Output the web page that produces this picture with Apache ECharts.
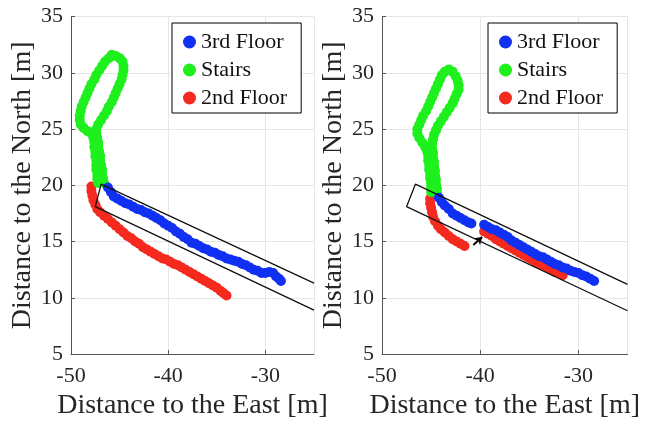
<!DOCTYPE html>
<html>
<head>
<meta charset="utf-8">
<script src="https://cdn.jsdelivr.net/npm/echarts@6/dist/echarts.min.js"></script>
<style>
  html, body { margin: 0; padding: 0; background: #fff; }
  #chart { width: 646px; height: 425px; }
</style>
</head>
<body>
<div id="chart"></div>
<script>
// 左图：原始轨迹
var floor3Left = [
  [-46.2, 19.8], [-45.9, 19.4], [-45.6, 19.0], [-45.2, 18.8], [-44.8, 18.6], [-44.4, 18.4],
  [-44.0, 18.3], [-43.6, 18.1], [-43.2, 17.9], [-42.8, 17.8], [-42.4, 17.6], [-42.0, 17.5],
  [-41.6, 17.3], [-41.2, 17.1], [-40.8, 16.9], [-40.4, 16.6], [-40.0, 16.4], [-39.6, 16.2],
  [-39.2, 15.9], [-38.8, 15.7], [-38.4, 15.4], [-38.0, 15.2], [-37.6, 14.9], [-37.2, 14.8],
  [-36.8, 14.6], [-36.4, 14.4], [-36.0, 14.3], [-35.6, 14.1], [-35.2, 14.0], [-34.8, 13.8],
  [-34.4, 13.7], [-34.0, 13.5], [-33.6, 13.4], [-33.2, 13.3], [-32.8, 13.2], [-32.4, 13.0],
  [-32.0, 12.9], [-31.6, 12.7], [-31.2, 12.5], [-30.8, 12.4], [-30.4, 12.2], [-30.0, 12.2],
  [-29.6, 12.3], [-29.2, 12.2], [-28.9, 11.9], [-28.6, 11.7], [-28.4, 11.5]
];
var stairsLeft = [
  [-46.6, 20.2], [-46.7, 20.6], [-46.8, 21.0], [-46.8, 21.4], [-46.9, 21.8], [-47.0, 22.2],
  [-47.0, 22.6], [-47.1, 23.0], [-47.2, 23.4], [-47.2, 23.8], [-47.3, 24.2], [-47.4, 24.6],
  [-47.4, 25.0], [-47.2, 25.4], [-46.9, 25.8], [-46.6, 26.2], [-46.3, 26.6], [-46.1, 27.0],
  [-45.8, 27.4], [-45.6, 27.8], [-45.4, 28.2], [-45.2, 28.6], [-45.0, 29.0], [-44.8, 29.4],
  [-44.7, 29.8], [-44.6, 30.2], [-44.6, 30.6], [-44.7, 31.0], [-45.0, 31.3], [-45.4, 31.5],
  [-45.8, 31.6], [-46.1, 31.3], [-46.5, 31.0], [-46.8, 30.6], [-47.1, 30.2], [-47.4, 29.8],
  [-47.6, 29.4], [-47.9, 29.0], [-48.1, 28.6], [-48.3, 28.2], [-48.5, 27.8], [-48.7, 27.4],
  [-48.9, 27.0], [-49.0, 26.6], [-49.1, 26.2], [-49.1, 25.8], [-49.0, 25.4], [-48.7, 25.1],
  [-48.3, 24.8], [-47.9, 24.6], [-47.7, 24.2], [-47.6, 23.8], [-47.6, 23.4], [-47.5, 23.0],
  [-47.5, 22.6], [-47.4, 22.2], [-47.4, 21.8], [-47.4, 21.4], [-47.3, 21.0], [-47.3, 20.6],
  [-47.2, 20.2]
];
var floor2Left = [
  [-47.9, 19.9], [-47.9, 19.5], [-47.8, 19.1], [-47.7, 18.7], [-47.5, 18.3], [-47.3, 17.9],
  [-47.0, 17.6], [-46.6, 17.3], [-46.2, 17.0], [-45.8, 16.7], [-45.4, 16.4], [-45.0, 16.1],
  [-44.6, 15.8], [-44.2, 15.5], [-43.8, 15.3], [-43.4, 15.0], [-43.0, 14.8], [-42.6, 14.5],
  [-42.2, 14.3], [-41.8, 14.1], [-41.4, 13.9], [-41.0, 13.7], [-40.6, 13.5], [-40.2, 13.4],
  [-39.8, 13.2], [-39.4, 13.0], [-39.0, 12.9], [-38.6, 12.7], [-38.2, 12.5], [-37.8, 12.3],
  [-37.4, 12.1], [-37.0, 11.9], [-36.6, 11.7], [-36.2, 11.5], [-35.8, 11.3], [-35.4, 11.1],
  [-35.0, 10.9], [-34.6, 10.6], [-34.3, 10.4], [-34.0, 10.2]
];
var boxLeft = [[-25.0, 11.3], [-46.9, 20.1], [-47.5, 18.1], [-25.0, 8.9]];

// 右图：校正后轨迹
var floor3Right = [
  [-44.2, 18.9], [-43.9, 18.5], [-43.6, 18.2], [-43.2, 17.9], [-42.8, 17.5], [-42.4, 17.3],
  [-42.0, 17.1], [-41.6, 16.9], [-41.2, 16.7], [-40.9, 16.6],
  [-39.6, 16.5], [-39.2, 16.3], [-38.8, 16.1], [-38.4, 16.0], [-38.0, 15.8], [-37.6, 15.6],
  [-37.2, 15.4], [-36.8, 15.1], [-36.4, 14.9], [-36.0, 14.7], [-35.6, 14.5], [-35.2, 14.3],
  [-34.8, 14.1], [-34.4, 13.9], [-34.0, 13.7], [-33.6, 13.6], [-33.2, 13.4], [-32.8, 13.2],
  [-32.4, 13.0], [-32.0, 12.9], [-31.6, 12.7], [-31.2, 12.6], [-30.8, 12.4], [-30.4, 12.3],
  [-30.0, 12.2], [-29.6, 12.0], [-29.2, 11.9], [-28.8, 11.7], [-28.4, 11.5]
];
var stairsRight = [
  [-44.4, 19.3], [-44.4, 19.7], [-44.5, 20.1], [-44.5, 20.5], [-44.6, 20.9], [-44.6, 21.3],
  [-44.7, 21.7], [-44.7, 22.1], [-44.8, 22.5], [-44.8, 22.9], [-44.9, 23.3], [-44.9, 23.7],
  [-44.8, 24.1], [-44.7, 24.5], [-44.5, 24.9], [-44.3, 25.3], [-44.0, 25.7], [-43.7, 26.1],
  [-43.4, 26.5], [-43.1, 26.9], [-42.8, 27.3], [-42.6, 27.7], [-42.4, 28.1], [-42.2, 28.5],
  [-42.2, 28.9], [-42.3, 29.3], [-42.5, 29.7], [-42.8, 30.1], [-43.2, 30.3], [-43.6, 30.1],
  [-43.9, 29.8], [-44.1, 29.4], [-44.3, 29.0], [-44.5, 28.6], [-44.7, 28.2], [-44.9, 27.8],
  [-45.1, 27.4], [-45.3, 27.0], [-45.5, 26.6], [-45.8, 26.2], [-46.0, 25.8], [-46.2, 25.4],
  [-46.4, 25.0], [-46.4, 24.6], [-46.2, 24.2], [-45.9, 23.8], [-45.6, 23.4], [-45.4, 23.0],
  [-45.3, 22.6], [-45.3, 22.2], [-45.2, 21.8], [-45.2, 21.4], [-45.1, 21.0], [-45.1, 20.6],
  [-45.0, 20.2], [-45.0, 19.8], [-45.0, 19.4]
];
var floor2Right = [
  [-45.1, 18.8], [-45.1, 18.4], [-45.0, 18.0], [-44.9, 17.6], [-44.8, 17.2], [-44.6, 16.8],
  [-44.3, 16.4], [-44.0, 16.1], [-43.6, 15.8], [-43.2, 15.5], [-42.8, 15.2], [-42.4, 15.0],
  [-42.0, 14.8], [-41.6, 14.6],
  [-39.6, 15.9], [-39.2, 15.7], [-38.8, 15.5], [-38.4, 15.2], [-38.0, 15.0], [-37.6, 14.8],
  [-37.2, 14.6], [-36.8, 14.4], [-36.4, 14.2], [-36.0, 14.0], [-35.6, 13.8], [-35.2, 13.6],
  [-34.8, 13.4], [-34.4, 13.2], [-34.0, 13.0], [-33.6, 12.9], [-33.2, 12.7], [-32.8, 12.5],
  [-32.4, 12.3], [-32.0, 12.2], [-31.6, 12.0]
];
var boxRight = [[-25.0, 11.2], [-46.6, 20.1], [-47.5, 18.1], [-25.0, 8.85]];
var arrowRight = [[-40.7, 14.7], [-39.8, 15.4]];

var names = ['3rd Floor', 'Stairs', '2nd Floor'];
var colors = { '3rd Floor': '#1030f2', 'Stairs': '#1ef01e', '2nd Floor': '#f52a1e' };
var xMin = -50, xMax = -25, xStep = 10;
var yMin = 5, yMax = 35, yStep = 5;

var font = 'Liberation Serif';

function xAxisOf(idx) {
    return {
        gridIndex: idx,
        type: 'value',
        min: xMin, max: xMax, interval: xStep,
        name: 'Distance to the East [m]',
        nameLocation: 'middle',
        nameGap: 34,
        nameTextStyle: { fontFamily: font, fontSize: 28, color: '#262626' },
        axisLine: { show: true, onZero: false, lineStyle: { color: '#555', width: 1 } },
        axisTick: { show: true, inside: true, length: 4, lineStyle: { color: '#555' } },
        axisLabel: { fontFamily: font, fontSize: 22, color: '#262626', margin: 11, showMaxLabel: false },
        splitLine: { show: true, lineStyle: { color: '#e6e6e6', width: 1 } }
    };
}
function yAxisOf(idx, gap) {
    return {
        gridIndex: idx,
        type: 'value',
        min: yMin, max: yMax, interval: yStep,
        name: 'Distance to the North [m]',
        nameLocation: 'middle',
        nameGap: gap,
        nameTextStyle: { fontFamily: font, fontSize: 28, color: '#262626' },
        axisLine: { show: true, onZero: false, lineStyle: { color: '#555', width: 1 } },
        axisTick: { show: true, inside: true, length: 4, lineStyle: { color: '#555' } },
        axisLabel: { fontFamily: font, fontSize: 22, color: '#262626', margin: 8 },
        splitLine: { show: true, lineStyle: { color: '#e6e6e6', width: 1 } }
    };
}
function dots(name, idx, data) {
    return {
        name: name, type: 'scatter',
        xAxisIndex: idx, yAxisIndex: idx,
        symbol: 'circle', symbolSize: 10,
        itemStyle: { color: colors[name], opacity: 1 },
        data: data
    };
}
function box(idx, data) {
    return {
        type: 'line', xAxisIndex: idx, yAxisIndex: idx,
        symbol: 'none', clip: true, silent: true,
        lineStyle: { color: '#111', width: 1.3 },
        data: data, z: 5
    };
}
function legendAt(left) {
    return {
        data: names, orient: 'vertical', left: left, top: 23,
        icon: 'circle', itemWidth: 13, itemHeight: 13, itemGap: 6,
        padding: [8, 14, 4, 11],
        borderColor: '#000', borderWidth: 1, backgroundColor: '#fff',
        textStyle: { fontFamily: font, fontSize: 22, color: '#111' }
    };
}

var myChart = echarts.init(document.getElementById('chart'));
var rightBox = box(1, boxRight);
rightBox.markLine = {
    silent: true,
    symbol: ['none', 'arrow'],
    symbolSize: 7,
    label: { show: false },
    lineStyle: { color: '#000', width: 2, type: 'solid' },
    data: [[{ coord: arrowRight[0] }, { coord: arrowRight[1] }]]
};

myChart.setOption({
    animation: false,
    textStyle: { fontFamily: font },
    legend: [legendAt(172), legendAt(488)],
    grid: [
        { left: 71, top: 16.5, width: 243, height: 343.5 },
        { left: 382, top: 16.5, width: 245.5, height: 343.5 }
    ],
    xAxis: [xAxisOf(0), xAxisOf(1)],
    yAxis: [yAxisOf(0, 34), yAxisOf(1, 26)],
    series: [
        dots('2nd Floor', 0, floor2Left),
        dots('Stairs', 0, stairsLeft),
        dots('3rd Floor', 0, floor3Left),
        box(0, boxLeft),
        dots('2nd Floor', 1, floor2Right),
        dots('Stairs', 1, stairsRight),
        dots('3rd Floor', 1, floor3Right),
        rightBox
    ]
});
</script>
</body>
</html>
